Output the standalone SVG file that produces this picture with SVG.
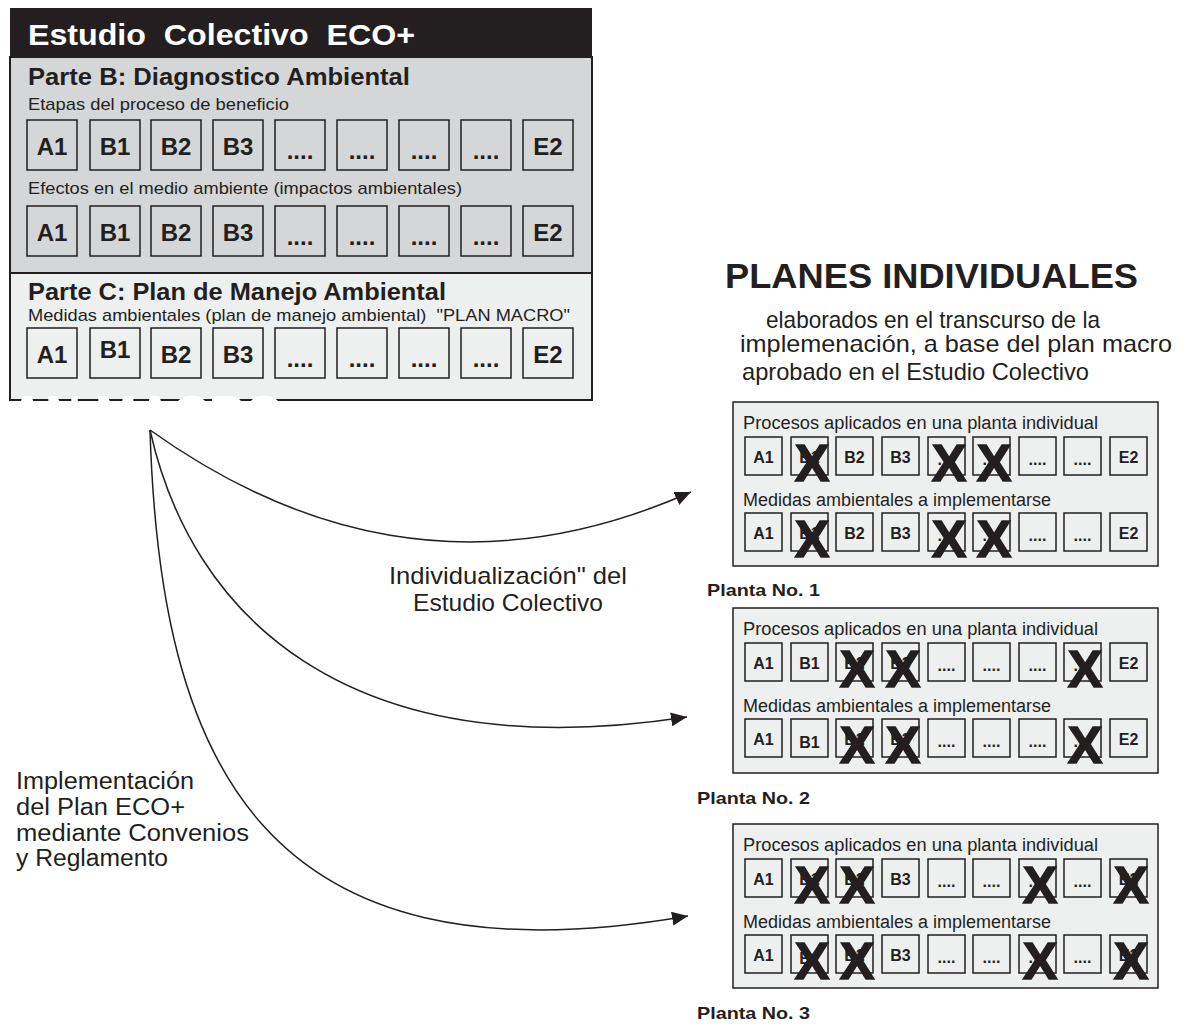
<svg xmlns="http://www.w3.org/2000/svg" xmlns:xlink="http://www.w3.org/1999/xlink" width="1179" height="1024" viewBox="0 0 1179 1024">
<style>
text{font-family:"Liberation Sans",Arial,Helvetica,sans-serif;fill:#231f20}
.b{font-weight:bold}
.bx{fill:none;stroke:#231f20;stroke-width:1.5}
.lb{font-weight:bold;font-size:24px;text-anchor:middle}
.pl{font-weight:bold;font-size:16px;text-anchor:middle}
.xx{font-weight:bold;font-size:52px;text-anchor:middle;stroke:#231f20;stroke-width:1.5}
.conn{fill:none;stroke:#231f20;stroke-width:1.5}
.panel{fill:#eeefef;stroke:#231f20;stroke-width:1.5}
</style>
<defs>
<rect id="bigbox" width="50" height="50" class="bx"/>
<rect id="smbox" width="37" height="38" class="bx"/>
<marker id="arr" markerUnits="userSpaceOnUse" markerWidth="20" markerHeight="14" refX="16" refY="7" orient="auto">
<path d="M0,0 L16,7 L0,14 Z" fill="#231f20"/>
</marker>
</defs>
<rect width="1179" height="1024" fill="#ffffff"/>

<g id="estudio-colectivo">
<rect x="10" y="8" width="582" height="49" fill="#231f20"/>
<rect x="10" y="57" width="582" height="216" fill="#d5d6d8" stroke="#231f20" stroke-width="2"/>
<rect x="10" y="273" width="582" height="127" fill="#eeefef" stroke="#231f20" stroke-width="2"/>
<text x="28" y="45" class="b" font-size="30" style="fill:#ffffff;white-space:pre" xml:space="preserve" textLength="387" lengthAdjust="spacingAndGlyphs">Estudio  Colectivo  ECO+</text>
<text x="28" y="85" class="b" font-size="24" textLength="382" lengthAdjust="spacingAndGlyphs">Parte B: Diagnostico Ambiental</text>
<text x="28" y="110" font-size="17" textLength="261" lengthAdjust="spacingAndGlyphs">Etapas del proceso de beneficio</text>
<g id="fila-etapas">
<use xlink:href="#bigbox" x="27" y="120"/><use xlink:href="#bigbox" x="90" y="120"/><use xlink:href="#bigbox" x="151" y="120"/><use xlink:href="#bigbox" x="213" y="120"/><use xlink:href="#bigbox" x="275" y="120"/><use xlink:href="#bigbox" x="337" y="120"/><use xlink:href="#bigbox" x="399" y="120"/><use xlink:href="#bigbox" x="461" y="120"/><use xlink:href="#bigbox" x="523" y="120"/>
<text class="lb" x="52" y="155">A1</text><text class="lb" x="115" y="155">B1</text><text class="lb" x="176" y="155">B2</text><text class="lb" x="238" y="155">B3</text><text class="lb" x="300" y="159">....</text><text class="lb" x="362" y="159">....</text><text class="lb" x="424" y="159">....</text><text class="lb" x="486" y="159">....</text><text class="lb" x="548" y="155">E2</text>
</g>
<text x="28" y="194" font-size="17" textLength="434" lengthAdjust="spacingAndGlyphs">Efectos en el medio ambiente (impactos ambientales)</text>
<g id="fila-efectos">
<use xlink:href="#bigbox" x="27" y="206"/><use xlink:href="#bigbox" x="90" y="206"/><use xlink:href="#bigbox" x="151" y="206"/><use xlink:href="#bigbox" x="213" y="206"/><use xlink:href="#bigbox" x="275" y="206"/><use xlink:href="#bigbox" x="337" y="206"/><use xlink:href="#bigbox" x="399" y="206"/><use xlink:href="#bigbox" x="461" y="206"/><use xlink:href="#bigbox" x="523" y="206"/>
<text class="lb" x="52" y="241">A1</text><text class="lb" x="115" y="241">B1</text><text class="lb" x="176" y="241">B2</text><text class="lb" x="238" y="241">B3</text><text class="lb" x="300" y="245">....</text><text class="lb" x="362" y="245">....</text><text class="lb" x="424" y="245">....</text><text class="lb" x="486" y="245">....</text><text class="lb" x="548" y="241">E2</text>
</g>
<text x="28" y="300" class="b" font-size="24" textLength="418" lengthAdjust="spacingAndGlyphs">Parte C: Plan de Manejo Ambiental</text>
<text x="28" y="321" font-size="17" style="white-space:pre" xml:space="preserve" textLength="542" lengthAdjust="spacingAndGlyphs">Medidas ambientales (plan de manejo ambiental)  "PLAN MACRO"</text>
<g id="fila-medidas">
<use xlink:href="#bigbox" x="27" y="328"/><use xlink:href="#bigbox" x="90" y="328"/><use xlink:href="#bigbox" x="151" y="328"/><use xlink:href="#bigbox" x="213" y="328"/><use xlink:href="#bigbox" x="275" y="328"/><use xlink:href="#bigbox" x="337" y="328"/><use xlink:href="#bigbox" x="399" y="328"/><use xlink:href="#bigbox" x="461" y="328"/><use xlink:href="#bigbox" x="523" y="328"/>
<text class="lb" x="52" y="363">A1</text><text class="lb" x="115" y="358">B1</text><text class="lb" x="176" y="363">B2</text><text class="lb" x="238" y="363">B3</text><text class="lb" x="300" y="367">....</text><text class="lb" x="362" y="367">....</text><text class="lb" x="424" y="367">....</text><text class="lb" x="486" y="367">....</text><text class="lb" x="548" y="363">E2</text>
</g>
<text x="-55" y="431" class="b" font-size="50" style="fill:#ffffff">PLAN MACRO</text>
</g>

<g id="planes-individuales">
<text x="725" y="288" class="b" font-size="35" textLength="413" lengthAdjust="spacingAndGlyphs">PLANES INDIVIDUALES</text>
<text x="766" y="328" font-size="24" textLength="334" lengthAdjust="spacingAndGlyphs">elaborados en el transcurso de la</text>
<text x="740" y="352" font-size="24" textLength="432" lengthAdjust="spacingAndGlyphs">implemenación, a base del plan macro</text>
<text x="742" y="380" font-size="24" textLength="347" lengthAdjust="spacingAndGlyphs">aprobado en el Estudio Colectivo</text>
</g>

<g id="planta-1">
<rect class="panel" x="733" y="402" width="425" height="164"/>
<text x="743" y="429" font-size="18" textLength="355" lengthAdjust="spacingAndGlyphs">Procesos aplicados en una planta individual</text>
<use xlink:href="#smbox" x="745" y="437"/><use xlink:href="#smbox" x="791" y="437"/><use xlink:href="#smbox" x="836" y="437"/><use xlink:href="#smbox" x="882" y="437"/><use xlink:href="#smbox" x="928" y="437"/><use xlink:href="#smbox" x="973" y="437"/><use xlink:href="#smbox" x="1019" y="437"/><use xlink:href="#smbox" x="1064" y="437"/><use xlink:href="#smbox" x="1110" y="437"/>
<text class="pl" x="763.5" y="463">A1</text><text class="pl" x="809.5" y="463">B1</text><text class="pl" x="854.5" y="463">B2</text><text class="pl" x="900.5" y="463">B3</text><text class="pl" x="946.5" y="465">....</text><text class="pl" x="991.5" y="465">....</text><text class="pl" x="1037.5" y="465">....</text><text class="pl" x="1082.5" y="465">....</text><text class="pl" x="1128.5" y="463">E2</text>
<text class="xx" x="812" y="481">X</text><text class="xx" x="949" y="481">X</text><text class="xx" x="994" y="481">X</text>
<text x="743" y="506" font-size="18" textLength="308" lengthAdjust="spacingAndGlyphs">Medidas ambientales a implementarse</text>
<use xlink:href="#smbox" x="745" y="513"/><use xlink:href="#smbox" x="791" y="513"/><use xlink:href="#smbox" x="836" y="513"/><use xlink:href="#smbox" x="882" y="513"/><use xlink:href="#smbox" x="928" y="513"/><use xlink:href="#smbox" x="973" y="513"/><use xlink:href="#smbox" x="1019" y="513"/><use xlink:href="#smbox" x="1064" y="513"/><use xlink:href="#smbox" x="1110" y="513"/>
<text class="pl" x="763.5" y="539">A1</text><text class="pl" x="809.5" y="539">B1</text><text class="pl" x="854.5" y="539">B2</text><text class="pl" x="900.5" y="539">B3</text><text class="pl" x="946.5" y="541">....</text><text class="pl" x="991.5" y="541">....</text><text class="pl" x="1037.5" y="541">....</text><text class="pl" x="1082.5" y="541">....</text><text class="pl" x="1128.5" y="539">E2</text>
<text class="xx" x="812" y="557">X</text><text class="xx" x="949" y="557">X</text><text class="xx" x="994" y="557">X</text>
<text x="707" y="596" class="b" font-size="17" textLength="113" lengthAdjust="spacingAndGlyphs">Planta No. 1</text>
</g>

<g id="planta-2">
<rect class="panel" x="733" y="608" width="425" height="165"/>
<text x="743" y="635" font-size="18" textLength="355" lengthAdjust="spacingAndGlyphs">Procesos aplicados en una planta individual</text>
<use xlink:href="#smbox" x="745" y="643"/><use xlink:href="#smbox" x="791" y="643"/><use xlink:href="#smbox" x="836" y="643"/><use xlink:href="#smbox" x="882" y="643"/><use xlink:href="#smbox" x="928" y="643"/><use xlink:href="#smbox" x="973" y="643"/><use xlink:href="#smbox" x="1019" y="643"/><use xlink:href="#smbox" x="1064" y="643"/><use xlink:href="#smbox" x="1110" y="643"/>
<text class="pl" x="763.5" y="669">A1</text><text class="pl" x="809.5" y="669">B1</text><text class="pl" x="854.5" y="669">B2</text><text class="pl" x="900.5" y="669">B3</text><text class="pl" x="946.5" y="671">....</text><text class="pl" x="991.5" y="671">....</text><text class="pl" x="1037.5" y="671">....</text><text class="pl" x="1082.5" y="671">....</text><text class="pl" x="1128.5" y="669">E2</text>
<text class="xx" x="857" y="687">X</text><text class="xx" x="903" y="687">X</text><text class="xx" x="1085" y="687">X</text>
<text x="743" y="712" font-size="18" textLength="308" lengthAdjust="spacingAndGlyphs">Medidas ambientales a implementarse</text>
<use xlink:href="#smbox" x="745" y="719"/><use xlink:href="#smbox" x="791" y="719"/><use xlink:href="#smbox" x="836" y="719"/><use xlink:href="#smbox" x="882" y="719"/><use xlink:href="#smbox" x="928" y="719"/><use xlink:href="#smbox" x="973" y="719"/><use xlink:href="#smbox" x="1019" y="719"/><use xlink:href="#smbox" x="1064" y="719"/><use xlink:href="#smbox" x="1110" y="719"/>
<text class="pl" x="763.5" y="745">A1</text><text class="pl" x="809.5" y="748">B1</text><text class="pl" x="854.5" y="745">B2</text><text class="pl" x="900.5" y="745">B3</text><text class="pl" x="946.5" y="747">....</text><text class="pl" x="991.5" y="747">....</text><text class="pl" x="1037.5" y="747">....</text><text class="pl" x="1082.5" y="747">....</text><text class="pl" x="1128.5" y="745">E2</text>
<text class="xx" x="857" y="763">X</text><text class="xx" x="903" y="763">X</text><text class="xx" x="1085" y="763">X</text>
<text x="697" y="804" class="b" font-size="17" textLength="113" lengthAdjust="spacingAndGlyphs">Planta No. 2</text>
</g>

<g id="planta-3">
<rect class="panel" x="733" y="824" width="425" height="164"/>
<text x="743" y="851" font-size="18" textLength="355" lengthAdjust="spacingAndGlyphs">Procesos aplicados en una planta individual</text>
<use xlink:href="#smbox" x="745" y="859"/><use xlink:href="#smbox" x="791" y="859"/><use xlink:href="#smbox" x="836" y="859"/><use xlink:href="#smbox" x="882" y="859"/><use xlink:href="#smbox" x="928" y="859"/><use xlink:href="#smbox" x="973" y="859"/><use xlink:href="#smbox" x="1019" y="859"/><use xlink:href="#smbox" x="1064" y="859"/><use xlink:href="#smbox" x="1110" y="859"/>
<text class="pl" x="763.5" y="885">A1</text><text class="pl" x="809.5" y="885">B1</text><text class="pl" x="854.5" y="885">B2</text><text class="pl" x="900.5" y="885">B3</text><text class="pl" x="946.5" y="887">....</text><text class="pl" x="991.5" y="887">....</text><text class="pl" x="1037.5" y="887">....</text><text class="pl" x="1082.5" y="887">....</text><text class="pl" x="1128.5" y="885">E2</text>
<text class="xx" x="812" y="903">X</text><text class="xx" x="857" y="903">X</text><text class="xx" x="1040" y="903">X</text><text class="xx" x="1131" y="903">X</text>
<text x="743" y="928" font-size="18" textLength="308" lengthAdjust="spacingAndGlyphs">Medidas ambientales a implementarse</text>
<use xlink:href="#smbox" x="745" y="935"/><use xlink:href="#smbox" x="791" y="935"/><use xlink:href="#smbox" x="836" y="935"/><use xlink:href="#smbox" x="882" y="935"/><use xlink:href="#smbox" x="928" y="935"/><use xlink:href="#smbox" x="973" y="935"/><use xlink:href="#smbox" x="1019" y="935"/><use xlink:href="#smbox" x="1064" y="935"/><use xlink:href="#smbox" x="1110" y="935"/>
<text class="pl" x="763.5" y="961">A1</text><text class="pl" x="809.5" y="964">B1</text><text class="pl" x="854.5" y="961">B2</text><text class="pl" x="900.5" y="961">B3</text><text class="pl" x="946.5" y="963">....</text><text class="pl" x="991.5" y="963">....</text><text class="pl" x="1037.5" y="963">....</text><text class="pl" x="1082.5" y="963">....</text><text class="pl" x="1128.5" y="961">E2</text>
<text class="xx" x="812" y="979">X</text><text class="xx" x="857" y="979">X</text><text class="xx" x="1040" y="979">X</text><text class="xx" x="1131" y="979">X</text>
<text x="697" y="1019" class="b" font-size="17" textLength="113" lengthAdjust="spacingAndGlyphs">Planta No. 3</text>
</g>

<g id="connectors">
<path class="conn" marker-end="url(#arr)" d="M150,430 C290,530 470,590 691,492"/>
<path class="conn" marker-end="url(#arr)" d="M150,430 C190,610 340,770 687,717"/>
<path class="conn" marker-end="url(#arr)" d="M150,430 C160,760 260,990 688,916"/>
</g>

<g id="labels">
<text x="389" y="584" font-size="24" textLength="238" lengthAdjust="spacingAndGlyphs">Individualización" del</text>
<text x="413" y="611" font-size="24" textLength="190" lengthAdjust="spacingAndGlyphs">Estudio Colectivo</text>
<text x="16" y="789" font-size="23" textLength="178" lengthAdjust="spacingAndGlyphs">Implementación</text>
<text x="16" y="815" font-size="23" textLength="169" lengthAdjust="spacingAndGlyphs">del Plan ECO+</text>
<text x="16" y="841" font-size="23" textLength="233" lengthAdjust="spacingAndGlyphs">mediante Convenios</text>
<text x="16" y="866" font-size="23" textLength="152" lengthAdjust="spacingAndGlyphs">y Reglamento</text>
</g>
</svg>
